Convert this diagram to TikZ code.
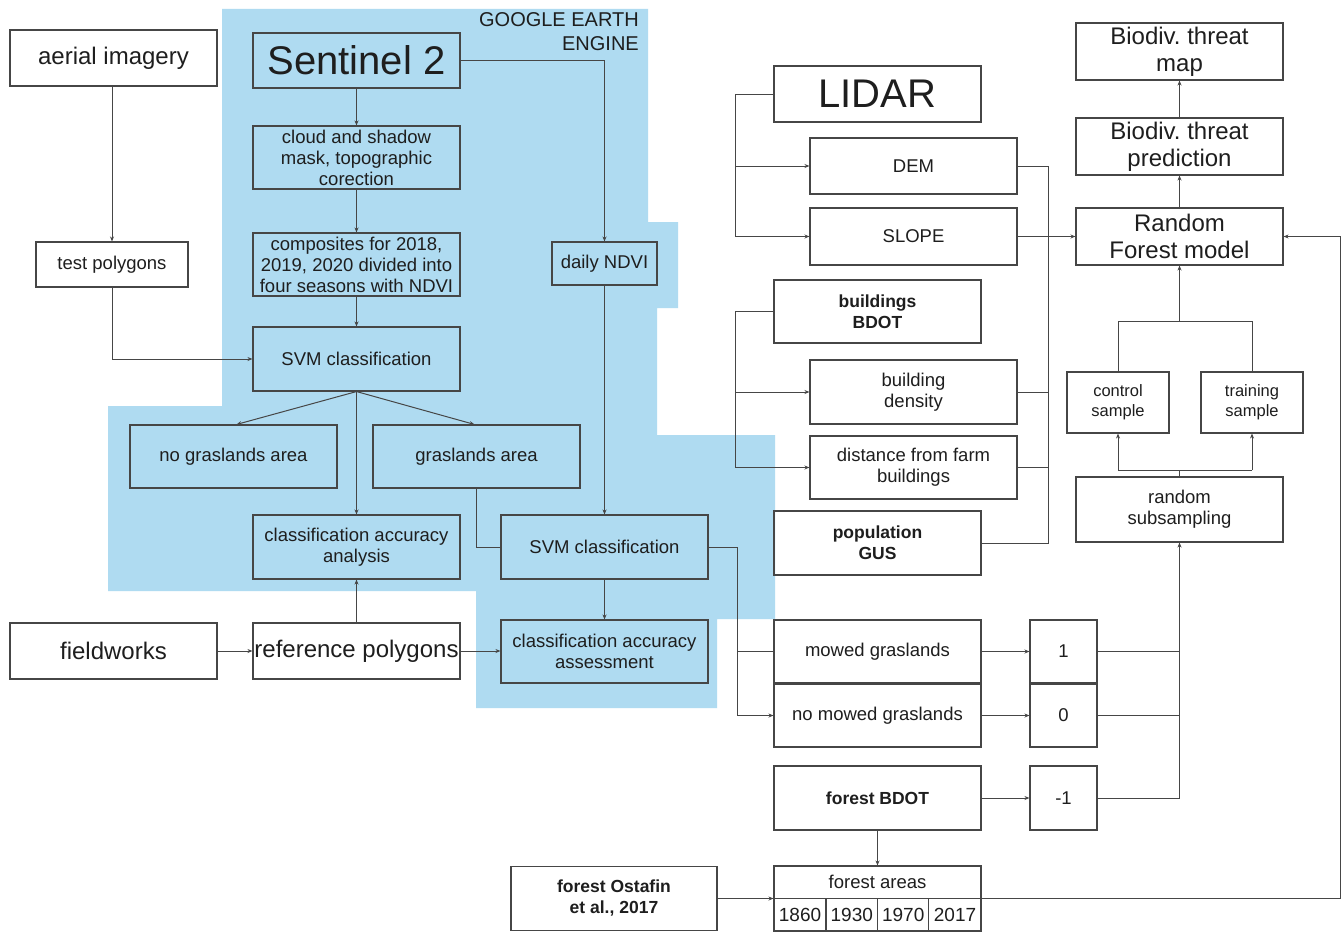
\documentclass[tikz,border=0pt]{standalone}
\usepackage{fontspec}
\setmainfont{Liberation Sans}
\usetikzlibrary{arrows.meta,calc}
\frenchspacing
\definecolor{geeblue}{RGB}{175,219,241}
\definecolor{ink}{RGB}{30,30,30}
\definecolor{edge}{RGB}{70,70,70}
\definecolor{wire}{RGB}{70,70,70}
\tikzset{
  bx/.style={draw=edge, line width=1.1pt, inner sep=0pt, align=center, text=ink,
     font=\fontsize{18.5}{21}\selectfont},
  wide/.style={minimum width=207pt},
  bigtxt/.style={font=\fontsize{40}{44}\selectfont},
  medtxt/.style={font=\fontsize{24}{27}\selectfont},
  smalltxt/.style={font=\fontsize{16.5}{20}\selectfont},
  boldtxt/.style={font=\fontsize{17.5}{21}\selectfont\bfseries},
  ln/.style={draw=wire, line width=1pt},
  arr/.style={ln, -{Stealth[length=5pt,width=4pt]}},
}
\begin{document}
\begin{tikzpicture}[x=1pt,y=-1pt]
\useasboundingbox (0,0) rectangle (1343,934);
\fill[white] (0,0) rectangle (1343,934);
% Google Earth Engine area
\fill[geeblue] (222,9) -- (648,9) -- (648,222) -- (678,222) -- (678,308) -- (657,308)
  -- (657,435) -- (775,435) -- (775,619) -- (717,619) -- (717,708) -- (476,708)
  -- (476,591) -- (108,591) -- (108,406) -- (222,406) -- cycle;
\node[anchor=north east, align=right, text=ink, font=\fontsize{20}{24}\selectfont, inner sep=0pt] (gee) at (639,12) {GOOGLE EARTH\\ENGINE};

% left / GEE column
\node[bx, wide, minimum height=56pt, medtxt] (aer) at (113.5,58) {aerial imagery};
\node[bx, wide, minimum height=55pt, bigtxt] (sen) at (356.5,60.5) {Sentinel 2};
\node[bx, wide, minimum height=63pt] (cld) at (356.5,157.5) {cloud and shadow\\mask, topographic\\corection};
\node[bx, wide, minimum height=63pt] (cmp) at (356.5,264.5) {composites for 2018,\\2019, 2020 divided into\\four seasons with NDVI};
\node[bx, minimum width=105pt, minimum height=43pt] (ndvi) at (604.5,263.5) {daily NDVI};
\node[bx, minimum width=152pt, minimum height=45pt] (tst) at (112,264.5) {test polygons};
\node[bx, wide, minimum height=64pt] (svm) at (356.5,359) {SVM classification};
\node[bx, wide, minimum height=63pt] (nog) at (233.5,456.5) {no graslands area};
\node[bx, wide, minimum height=63pt] (gra) at (476.5,456.5) {graslands area};
\node[bx, wide, minimum height=64pt] (caa) at (356.5,547) {classification accuracy\\analysis};
\node[bx, wide, minimum height=64pt] (svm2) at (604.5,547) {SVM classification};
\node[bx, wide, minimum height=56pt, medtxt] (fld) at (113.5,651) {fieldworks};
\node[bx, wide, minimum height=56pt, medtxt] (ref) at (356.5,651) {reference polygons};
\node[bx, wide, minimum height=63pt] (cas) at (604.5,651.5) {classification accuracy\\assessment};

% middle column
\node[bx, wide, minimum height=56pt, bigtxt] (lid) at (877.5,94) {LIDAR};
\node[bx, wide, minimum height=56pt] (dem) at (913.5,166) {DEM};
\node[bx, wide, minimum height=57pt] (slp) at (913.5,236.5) {SLOPE};
\node[bx, wide, minimum height=63pt, boldtxt] (bbd) at (877.5,311.5) {buildings\\BDOT};
\node[bx, wide, minimum height=64pt] (bden) at (913.5,392) {building\\density};
\node[bx, wide, minimum height=63pt] (dist) at (913.5,467.5) {distance from farm\\buildings};
\node[bx, wide, minimum height=64pt, boldtxt] (pop) at (877.5,543) {population\\GUS};
\node[bx, wide, minimum height=63pt] (mow) at (877.5,651.5) {mowed graslands};
\node[bx, wide, minimum height=63pt] (nmow) at (877.5,715.5) {no mowed graslands};
\node[bx, minimum width=67pt, minimum height=63pt] (one) at (1063.5,651.5) {1};
\node[bx, minimum width=67pt, minimum height=63pt] (zero) at (1063.5,715.5) {0};
\node[bx, wide, minimum height=64pt, boldtxt] (fbd) at (877.5,798) {forest BDOT};
\node[bx, minimum width=67pt, minimum height=64pt] (mone) at (1063.5,798) {-1};
\node[bx, minimum width=206pt, minimum height=64pt, boldtxt] (ost) at (614,898.5) {forest Ostafin\\et al., 2017};
\node[bx, wide, minimum height=65pt] (far) at (877.5,898.5) {};
\node[text=ink, inner sep=0pt, font=\fontsize{18.5}{21}\selectfont] (fart) at (877.5,882) {forest areas};
\node[text=ink, inner sep=0pt, font=\fontsize{19}{21}\selectfont] (y1) at (800,914.5) {1860};
\node[text=ink, inner sep=0pt, font=\fontsize{19}{21}\selectfont] (y2) at (851.8,914.5) {1930};
\node[text=ink, inner sep=0pt, font=\fontsize{19}{21}\selectfont] (y3) at (903.2,914.5) {1970};
\node[text=ink, inner sep=0pt, font=\fontsize{19}{21}\selectfont] (y4) at (955,914.5) {2017};
\draw[draw=edge, line width=1.1pt] (far.west) -- (far.east);
\draw[draw=edge, line width=1.1pt] (826,898.5) -- (826,931);
\draw[draw=edge, line width=1.1pt] (877.5,898.5) -- (877.5,931);
\draw[draw=edge, line width=1.1pt] (928.7,898.5) -- (928.7,931);

% right column
\node[bx, wide, minimum height=57pt, medtxt] (map) at (1179.5,51.5) {Biodiv. threat\\map};
\node[bx, wide, minimum height=57pt, medtxt] (pred) at (1179.5,146.5) {Biodiv. threat\\prediction};
\node[bx, wide, minimum height=57pt, medtxt] (rf) at (1179.5,236.5) {Random\\Forest model};
\node[bx, minimum width=102pt, minimum height=61pt, smalltxt] (ctl) at (1118,402.5) {control\\sample};
\node[bx, minimum width=102pt, minimum height=61pt, smalltxt] (trn) at (1252,402.5) {training\\sample};
\node[bx, wide, minimum height=65pt] (rss) at (1179.5,509.5) {random\\subsampling};

% junction coordinates
\coordinate (jl) at (735.5,0);
\coordinate (jr) at (1048.5,0);
\coordinate (jm) at (737,0);
\coordinate (jt) at (1179.5,321);
\coordinate (jb) at (1179.5,470);
\coordinate (jf) at (1340,898.5);

% connectors: left part
\draw[arr] (tst.north |- aer.south) -- (tst.north);
\draw[arr] (tst.south) |- (svm.west);
\draw[arr] (sen.south) -- (cld.north);
\draw[arr] (cld.south) -- (cmp.north);
\draw[arr] (cmp.south) -- (svm.north);
\draw[arr] (sen.east) -| (ndvi.north);
\draw[arr] (ndvi.south) -- (svm2.north);
\draw[arr] (svm.south) -- ([xshift=3pt]nog.north);
\draw[arr] (svm.south) -- ([xshift=-2pt]gra.north);
\draw[arr] (svm.south) -- (caa.north);
\draw[ln] (gra.south) |- (svm2.west);
\draw[arr] (ref.north) -- (caa.south);
\draw[arr] (fld.east) -- (ref.west);
\draw[arr] (ref.east) -- (cas.west |- ref.east);
\draw[arr] (svm2.south) -- (cas.north);
\draw[arr] (svm2.east) -| (jm |- nmow.west) -- (nmow.west);
\draw[ln] (jm |- mow.west) -- (mow.west);

% connectors: middle
\draw[arr] (lid.west) -| (jl |- slp.west) -- (slp.west);
\draw[arr] (jl |- dem.west) -- (dem.west);
\draw[arr] (bbd.west) -| (jl |- dist.west) -- (dist.west);
\draw[arr] (jl |- bden.west) -- (bden.west);
\draw[ln] (dem.east) -| (jr |- pop.east) -- (pop.east);
\draw[ln] (bden.east) -- (jr |- bden.east);
\draw[ln] (dist.east) -- (jr |- dist.east);
\draw[arr] (slp.east) -- (rf.west);
\draw[arr] (mow.east) -- (one.west);
\draw[arr] (nmow.east) -- (zero.west);
\draw[arr] (fbd.east) -- (mone.west);
\draw[arr] (fbd.south) -- (far.north);
\draw[arr] (ost.east) -- (far.west);

% connectors: right
\draw[arr] (mone.east) -| (rss.south);
\draw[ln] (one.east) -- (one.east -| rss.south);
\draw[ln] (zero.east) -- (zero.east -| rss.south);
\draw[ln] (rss.north) -- (jb);
\draw[ln] (ctl.south |- jb) -- (trn.south |- jb);
\draw[arr] (ctl.south |- jb) -- (ctl.south);
\draw[arr] (trn.south |- jb) -- (trn.south);
\draw[ln] (ctl.north) |- (jt -| trn.north) -- (trn.north);
\draw[arr] (jt) -- (rf.south);
\draw[arr] (rf.north) -- (pred.south);
\draw[arr] (pred.north) -- (map.south);
\draw[arr] (far.east) -- (jf) |- (rf.east);
\end{tikzpicture}
\end{document}
